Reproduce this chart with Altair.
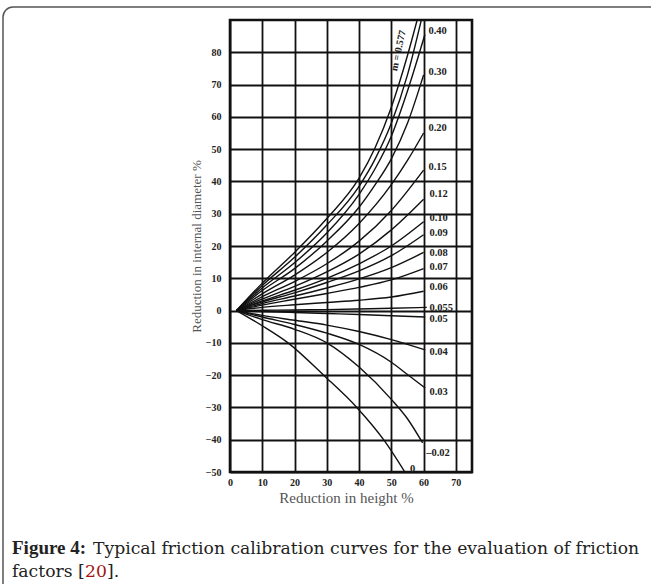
import altair as alt
import pandas as pd

# ---- data ----
x_ticks = [0, 10, 20, 30, 40, 50, 60, 70]
y_ticks = [-50, -40, -30, -20, -10, 0, 10, 20, 30, 40, 50, 60, 70, 80]

x_m0577 = [2, 10, 20, 30, 40, 45, 50, 55, 58]
y_m0577 = [0, 8.5, 18, 28.5, 41, 50.5, 63, 79, 90]
x_m050 = [2, 10, 20, 30, 40, 45, 50, 55, 59.3]
y_m050 = [0, 7.8, 16.5, 26.5, 38.5, 47, 58, 73, 90]
x_m040 = [2, 10, 20, 30, 40, 45, 50, 55, 60.4]
y_m040 = [0, 7, 14.8, 24, 36, 44, 54, 68, 85.5]
x_m030 = [2, 10, 20, 30, 40, 45, 50, 55, 60]
y_m030 = [0, 6.2, 13, 21.5, 32, 39, 47, 58, 73]
x_m020 = [2, 10, 20, 30, 40, 50, 55, 60]
y_m020 = [0, 5.2, 11, 18, 27, 39, 46.5, 55]
x_m015 = [2, 10, 20, 30, 40, 50, 60]
y_m015 = [0, 4.3, 9, 14.5, 21.5, 31, 43.5]
x_m012 = [2, 10, 20, 30, 40, 50, 60]
y_m012 = [0, 3.6, 7.5, 12, 17.5, 25, 34.5]
x_m010 = [2, 10, 20, 30, 40, 50, 60]
y_m010 = [0, 3, 6.3, 10, 14.5, 20, 27.5]
x_m009 = [2, 10, 20, 30, 40, 50, 60]
y_m009 = [0, 2.7, 5.5, 8.7, 12.3, 17, 23.5]
x_m008 = [2, 10, 20, 30, 40, 50, 60]
y_m008 = [0, 2.2, 4.5, 7, 9.8, 13.3, 18]
x_m007 = [2, 10, 20, 30, 40, 50, 60]
y_m007 = [0, 1.7, 3.5, 5.3, 7.2, 9.5, 13]
x_m006 = [2, 10, 20, 30, 40, 50, 60]
y_m006 = [0, 1, 1.8, 2.5, 3.2, 4.2, 6]
x_m0055 = [2, 10, 20, 30, 40, 50, 61]
y_m0055 = [0, 0.1, 0.2, 0.3, 0.5, 0.7, 1]
x_m005 = [2, 10, 20, 30, 40, 50, 60.5]
y_m005 = [0, -0.3, -0.6, -0.9, -1.2, -1.6, -2]
x_m004 = [2, 10, 20, 30, 40, 50, 60.5]
y_m004 = [0, -1.5, -3, -4.5, -6.5, -9, -12.2]
x_m003 = [2, 10, 20, 30, 40, 50, 55, 60.5]
y_m003 = [0, -2, -4.3, -7, -10.5, -16, -19.8, -24]
x_m002 = [2, 10, 20, 30, 40, 50, 55, 59.7]
y_m002 = [0, -2.8, -5.8, -10, -17.5, -27.5, -33.5, -41]
x_m000 = [2, 10, 18, 29, 39.3, 48, 54.2]
y_m000 = [0, -4.7, -10, -20, -30, -40.5, -50]

curve_names = ["0.577", "0.50", "0.40", "0.30", "0.20", "0.15", "0.12", "0.10", "0.09",
               "0.08", "0.07", "0.06", "0.055", "0.05", "0.04", "0.03", "0.02", "0"]
curve_xs = [x_m0577, x_m050, x_m040, x_m030, x_m020, x_m015, x_m012, x_m010, x_m009,
            x_m008, x_m007, x_m006, x_m0055, x_m005, x_m004, x_m003, x_m002, x_m000]
curve_ys = [y_m0577, y_m050, y_m040, y_m030, y_m020, y_m015, y_m012, y_m010, y_m009,
            y_m008, y_m007, y_m006, y_m0055, y_m005, y_m004, y_m003, y_m002, y_m000]

label_text = ["0.40", "0.30", "0.20", "0.15", "0.12", "0.10", "0.09", "0.08", "0.07",
              "0.06", "0.055", "0.05", "0.04", "0.03", "\u20130.02", "0"]
label_x = [61.5, 61.5, 61.5, 61.5, 61.8, 61.8, 61.8, 61.8, 61.8,
           61.8, 61.8, 61.8, 61.8, 61.8, 60.8, 55.8]
label_y = [86.5, 73.9, 56.6, 44.6, 36, 28.8, 23.9, 17.7, 13.6,
           7.2, 0.9, -2.7, -12.7, -25.1, -44.2, -49.2]

m_label = "m = 0.577"
m_label_x = [52.2]
m_label_y = [80.5]

x_title = "Reduction in height %"
y_title = "Reduction in internal diameter %"
caption_bold = "Figure 4:"
caption_rest = "Typical friction calibration curves for the evaluation of friction"
caption_l2a = "factors ["
caption_ref = "20"
caption_l2b = "]."

# ---- tables ----
rows = []
for name, xs, ys in zip(curve_names, curve_xs, curve_ys):
    for i, (xv, yv) in enumerate(zip(xs, ys)):
        rows.append({"curve": name, "x": xv, "y": yv, "i": i})
curves_df = pd.DataFrame(rows)
labels_df = pd.DataFrame({"t": label_text, "x": label_x, "y": label_y})
mlab_df = pd.DataFrame({"x": m_label_x, "y": m_label_y})

W, H = 242, 452
xscale = alt.Scale(domain=[0, 75], nice=False, zero=False)
yscale = alt.Scale(domain=[-50, 90], nice=False, zero=False)

xaxis = alt.Axis(values=x_ticks, title=x_title, grid=True, ticks=False, domain=False,
                 labelOverlap=False, labelFlush=False, titleX=116,
                 labelPadding=5, titlePadding=3, labelFontSize=10, labelFontWeight="bold",
                 labelFont="Liberation Serif", labelColor="#222", titleFont="Liberation Serif",
                 titleFontSize=15, titleFontWeight="normal", titleColor="#555")
yaxis = alt.Axis(values=y_ticks, title=y_title, grid=True, ticks=False, domain=False,
                 labelOverlap=False, labelFlush=False,
                 labelPadding=9, titlePadding=2, labelFontSize=10, labelFontWeight="bold",
                 labelFont="Liberation Serif", labelColor="#222", titleFont="Liberation Serif",
                 titleFontSize=13, titleFontWeight="normal", titleColor="#555")

X = alt.X("x:Q", scale=xscale, axis=xaxis)
Y = alt.Y("y:Q", scale=yscale, axis=yaxis)

lines = alt.Chart(curves_df).mark_line(color="#111", strokeWidth=1.4, interpolate="monotone",
                                       clip=True).encode(
    x=X, y=Y, detail="curve:N", order="i:Q")

labels = alt.Chart(labels_df).mark_text(align="left", baseline="middle", font="Liberation Serif",
                                        fontSize=10.5, fontWeight="bold", color="#222").encode(
    x=X, y=Y, text="t:N")

mlab = alt.Chart(mlab_df).mark_text(text=m_label, angle=282, font="Liberation Serif",
                                    fontSize=10, fontWeight="bold", color="#222").encode(
    x=X, y=Y)

one = alt.Data(values=[{"a": 1}])
frame = alt.Chart(one).mark_rect(fill=None, stroke="#555", strokeWidth=1.5, cornerRadius=10).encode(
    x=alt.value(-227), x2=alt.value(470), y=alt.value(-13), y2=alt.value(600))

cap1 = alt.Chart(one).mark_text(text=caption_bold, align="left", baseline="alphabetic",
                                font="Liberation Serif", fontSize=19, fontWeight="bold",
                                color="#222").encode(x=alt.value(-218), y=alt.value(534))
cap2 = alt.Chart(one).mark_text(text=caption_rest, align="left", baseline="alphabetic",
                                font="DejaVu Serif", fontSize=17.2, color="#222").encode(
    x=alt.value(-137), y=alt.value(534))
cap3 = alt.Chart(one).mark_text(text=caption_l2a, align="left", baseline="alphabetic",
                                font="DejaVu Serif", fontSize=17.2, color="#222").encode(
    x=alt.value(-218), y=alt.value(557))
cap4 = alt.Chart(one).mark_text(text=caption_ref, align="left", baseline="alphabetic",
                                font="DejaVu Serif", fontSize=17.2, color="#a31515").encode(
    x=alt.value(-145), y=alt.value(557))
cap5 = alt.Chart(one).mark_text(text=caption_l2b, align="left", baseline="alphabetic",
                                font="DejaVu Serif", fontSize=17.2, color="#222").encode(
    x=alt.value(-123), y=alt.value(557))

chart = alt.layer(frame, lines, labels, mlab, cap1, cap2, cap3, cap4, cap5).properties(
    width=W, height=H,
    autosize=alt.AutoSizeParams(type="none"),
    padding={"left": 230, "top": 20, "right": 179, "bottom": 112},
    background="white",
).configure_view(stroke="#111", strokeWidth=2.6).configure_axis(
    gridColor="#111", gridWidth=1.8, gridOpacity=1)

chart.save("out.html", embed_options={"renderer": "svg", "actions": False})
